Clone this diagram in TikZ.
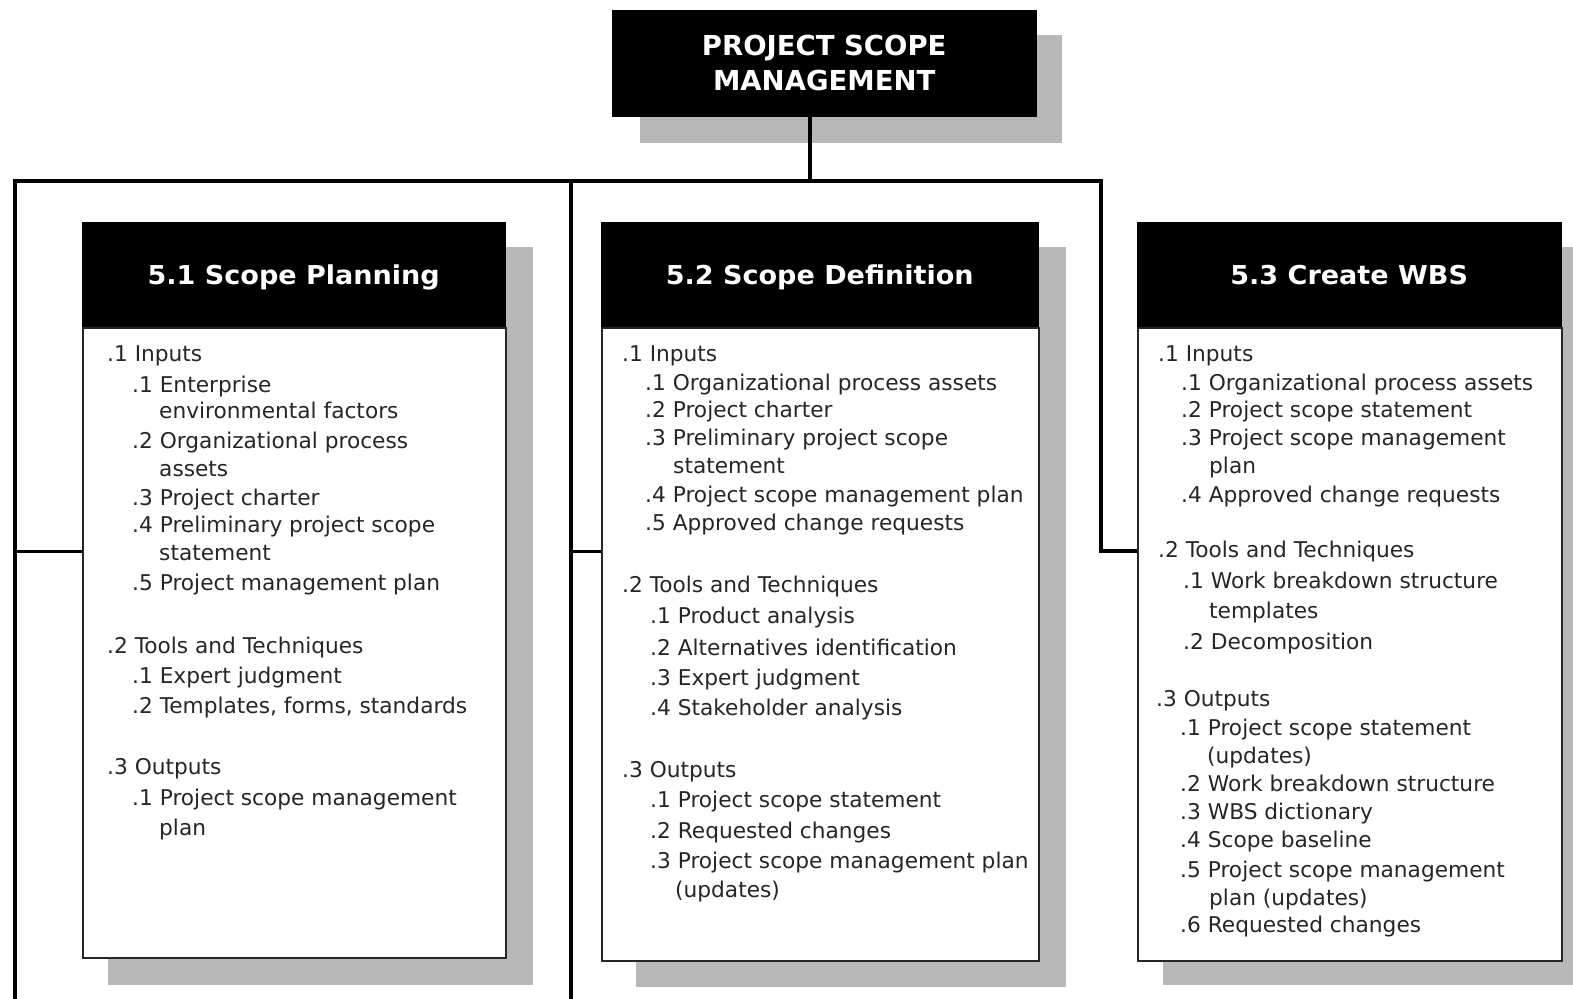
\documentclass[tikz,border=0pt]{standalone}
\usepackage{fontspec}
\setmainfont{DejaVu Sans}
\newfontfamily\hdrfont[FakeStretch=1.04]{DejaVu Sans}
\begin{document}
\begin{tikzpicture}[x=1pt,y=-1pt,
  shadowfill/.style={fill=black!28, draw=none},
  hdr/.style={draw=black, fill=black, text=white, anchor=north west, inner sep=0pt,
    font=\hdrfont\bfseries\fontsize{26}{30}\selectfont, text height=23pt, text depth=4pt},
  bodybox/.style={draw=black!85, line width=1.5pt, fill=white, anchor=north west, inner sep=0pt},
  conn/.style={line width=3.5pt, black, line join=miter},
  stub/.style={line width=3pt, black},
  txt/.style={anchor=base west, inner sep=0pt, font=\fontsize{21.7}{26}\selectfont, text=black!85}
]
\useasboundingbox (0,0) rectangle (1573,998);

% shadows
\fill[shadowfill] (640,35) rectangle (1062,143);
\fill[shadowfill] (108,247) rectangle (533,985);
\fill[shadowfill] (636,247) rectangle (1066,987);
\fill[shadowfill] (1163,247) rectangle (1573,985);

% title
\node[draw=black, fill=black, text=white, anchor=north west, inner sep=0pt,
  minimum width=424pt, minimum height=106pt, align=center,
  font=\bfseries\fontsize{27.5}{35}\selectfont] (top) at (612,10) {PROJECT SCOPE\\MANAGEMENT};

% process boxes
\node[hdr, minimum width=423pt, minimum height=105pt] (h1) at (82,222) {5.1 Scope Planning};
\node[bodybox, minimum width=423pt, minimum height=630pt] (b1) at (h1.south west) {};
\node[hdr, minimum width=437pt, minimum height=105pt] (h2) at (601,222) {5.2 Scope Definition};
\node[bodybox, minimum width=437pt, minimum height=633pt] (b2) at (h2.south west) {};
\node[hdr, minimum width=424pt, minimum height=105pt] (h3) at (1137,222) {5.3 Create WBS};
\node[bodybox, minimum width=424pt, minimum height=633pt] (b3) at (h3.south west) {};

% connectors
\coordinate (j) at (810,181);
\coordinate (jl) at (15,181);
\coordinate (jr) at (1101,181);
\coordinate (lb) at (15,1000);
\coordinate (mt) at (571,181);
\coordinate (mb) at (571,1000);
\coordinate (ls) at (15,551);
\coordinate (ms) at (571,551);
\coordinate (rs) at (1101,551);
\draw[conn] (j |- top.south) -- (j);
\draw[conn] (lb) -- (jl) -- (jr) -- (rs) -- (rs -| b3.west);
\draw[conn] (mt) -- (mb);
\draw[stub] (ls) -- (ls -| b1.west);
\draw[stub] (ms) -- (ms -| b2.west);

% texts 5.1
\foreach \x/\y/\t [count=\i] in {
  107/361/{.1 Inputs}, 132/392/{.1 Enterprise}, 159/418/{environmental factors},
  132/448/{.2 Organizational process}, 159/476/{assets}, 132/505/{.3 Project charter},
  132/532/{.4 Preliminary project scope}, 159/560/{statement}, 132/590/{.5 Project management plan},
  107/653/{.2 Tools and Techniques}, 132/683/{.1 Expert judgment}, 132/713/{.2 Templates, forms, standards},
  107/774/{.3 Outputs}, 132/805/{.1 Project scope management}, 159/835/{plan}}
  {\node[txt] (ta\i) at (\x,\y) {\t};}

% texts 5.2
\foreach \x/\y/\t [count=\i] in {
  622/361/{.1 Inputs}, 645/390/{.1 Organizational process assets}, 645/417/{.2 Project charter},
  645/445/{.3 Preliminary project scope}, 673/473/{statement}, 645/502/{.4 Project scope management plan},
  645/530/{.5 Approved change requests}, 622/592/{.2 Tools and Techniques}, 650/623/{.1 Product analysis},
  650/655/{.2 Alternatives identification}, 650/685/{.3 Expert judgment}, 650/715/{.4 Stakeholder analysis},
  622/777/{.3 Outputs}, 650/807/{.1 Project scope statement}, 650/838/{.2 Requested changes},
  650/868/{.3 Project scope management plan}, 675/897/{(updates)}}
  {\node[txt] (tb\i) at (\x,\y) {\t};}

% texts 5.3
\foreach \x/\y/\t [count=\i] in {
  1158/361/{.1 Inputs}, 1181/390/{.1 Organizational process assets}, 1181/417/{.2 Project scope statement},
  1181/445/{.3 Project scope management}, 1209/473/{plan}, 1181/502/{.4 Approved change requests},
  1158/557/{.2 Tools and Techniques}, 1183/588/{.1 Work breakdown structure}, 1209/618/{templates},
  1183/649/{.2 Decomposition}, 1156/706/{.3 Outputs}, 1180/735/{.1 Project scope statement},
  1207/763/{(updates)}, 1180/791/{.2 Work breakdown structure}, 1180/819/{.3 WBS dictionary},
  1180/847/{.4 Scope baseline}, 1180/877/{.5 Project scope management}, 1209/905/{plan (updates)},
  1180/932/{.6 Requested changes}}
  {\node[txt] (tc\i) at (\x,\y) {\t};}
\end{tikzpicture}
\end{document}
